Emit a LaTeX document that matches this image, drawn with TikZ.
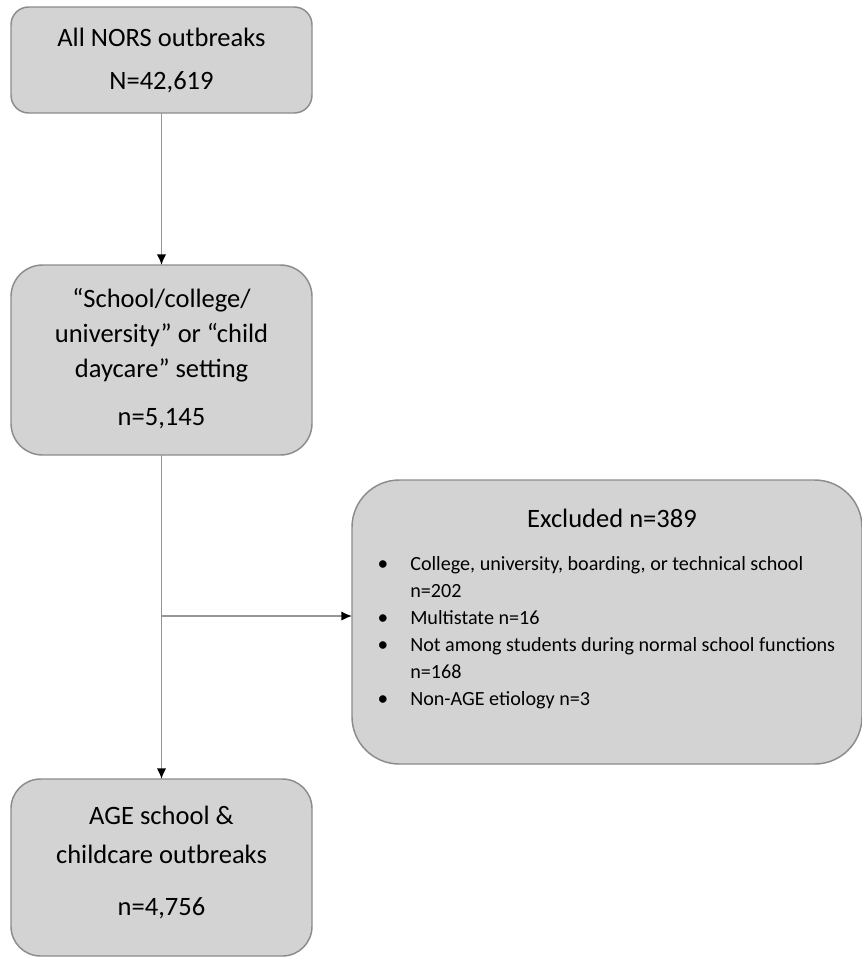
\documentclass[tikz,border=0pt]{standalone}
\usepackage{fontspec}
\setmainfont{Carlito}
\usetikzlibrary{arrows.meta}
\definecolor{boxfill}{RGB}{211,211,211}
\definecolor{boxline}{RGB}{140,140,140}
\definecolor{conline}{RGB}{150,150,150}
\tikzset{
  box/.style={draw=boxline, line width=1.1pt, fill=boxfill, inner sep=0pt, outer sep=0pt},
  main/.style={font=\fontsize{19.9}{24}\selectfont, anchor=base, inner sep=0pt},
  bul/.style={font=\fontsize{15.1}{18}\selectfont, anchor=base west, inner sep=0pt},
  con/.style={draw=conline, line width=1.1pt, -{Latex[length=8pt,width=7pt,color=black]}}
}
\begin{document}
\begin{tikzpicture}[x=0.75pt,y=-0.75pt]
\useasboundingbox (0,0) rectangle (861,957);
% boxes
\node[box, minimum width=225.75pt, minimum height=79.5pt, rounded corners=13.3pt] (b1) at (161.5,60) {};
\node[box, minimum width=225.75pt, minimum height=142.5pt, rounded corners=23.7pt] (b2) at (161.5,360) {};
\node[box, minimum width=382.5pt, minimum height=213pt, rounded corners=35.5pt] (b3) at (607,622) {};
\node[box, minimum width=225.75pt, minimum height=132.75pt, rounded corners=22.2pt] (b4) at (161.5,867.5) {};
% box 1 text
\node[main] (t1a) at (161.5,46) {All NORS outbreaks};
\node[main] (t1b) at (161.5,89) {N=42,619};
% box 2 text
\node[main] (t2a) at (161.5,307) {“School/college/};
\node[main] (t2b) at (161.5,342) {university” or “child};
\node[main] (t2c) at (161.5,377) {daycare” setting};
\node[main] (t2d) at (161.5,425) {n=5,145};
% box 3 text
\node[main] (t3) at (612,527) {Excluded n=389};
\foreach \y/\t/\b [count=\i] in {570/{College, university, boarding, or technical school}/1,
  597/{n=202}/0, 624/{Multistate n=16}/1,
  651/{Not among students during normal school functions}/1,
  678/{n=168}/0, 705/{Non-AGE etiology n=3}/1}{
  \node[bul] (l\i) at (410,\y) {\t};
  \ifnum\b=1 \node[font=\fontsize{16}{18}\selectfont, anchor=base, inner sep=0pt] (d\i) at (383,\y) {•};\fi
}
% box 4 text
\node[main] (t4a) at (161.5,824) {AGE school \&};
\node[main] (t4b) at (161.5,863) {childcare outbreaks};
\node[main] (t4c) at (161.5,915) {n=4,756};
% connectors
\coordinate (j) at (161.5,616);
\draw[con] (b1.south) -- (b2.north);
\draw[con] (b2.south) -- (b4.north);
\draw[con] (j) -- (j -| b3.west);
\end{tikzpicture}
\end{document}
